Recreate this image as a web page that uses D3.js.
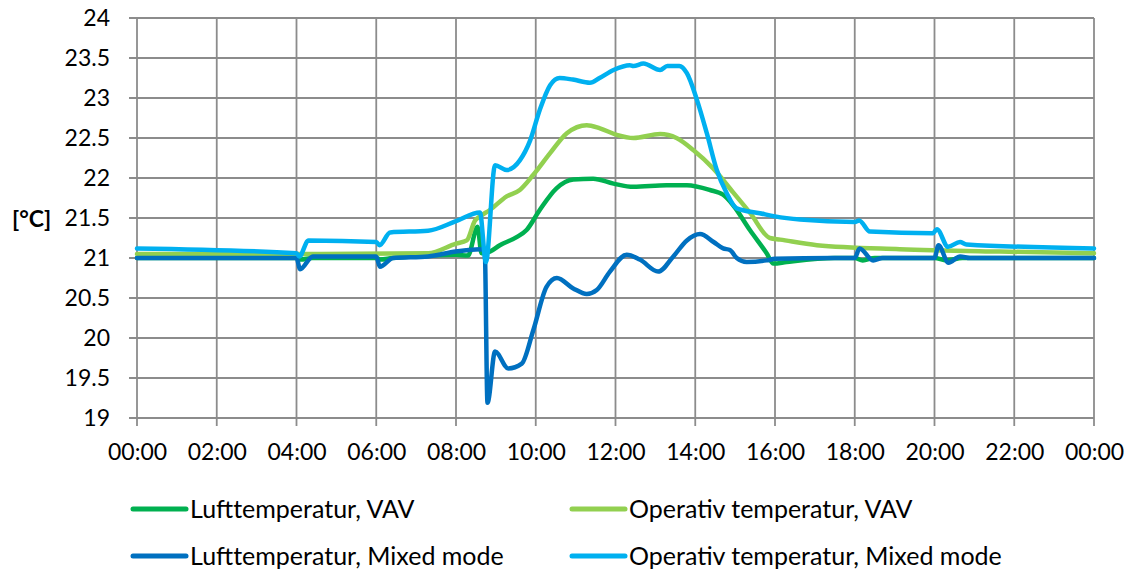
<!DOCTYPE html>
<html>
<head>
<meta charset="utf-8">
<script src="https://cdn.jsdelivr.net/npm/d3@7"></script>
<style>
  html, body { margin: 0; padding: 0; background: #fff; }
  svg { display: block; font-family: Lato, "Open Sans", sans-serif; }
</style>
</head>
<body>
<svg id="chart" width="1132" height="572"></svg>
<script>
// ---- Data (hours of day, °C) ----
const seriesNames = ["Lufttemperatur, VAV", "Operativ temperatur, VAV", "Lufttemperatur, Mixed mode", "Operativ temperatur, Mixed mode"];
const seriesColors = ["#00b050", "#92d050", "#0070c0", "#00b0f0"];

const xTickLabels = ["00:00","02:00","04:00","06:00","08:00","10:00","12:00","14:00","16:00","18:00","20:00","22:00","00:00"];
const yTicks = [19, 19.5, 20, 20.5, 21, 21.5, 22, 22.5, 23, 23.5, 24];

const luftVAV_t = [0, 4.0, 4.1, 4.4, 6.0, 6.1, 6.4, 8.0, 8.3, 8.54, 8.64, 8.85, 9.1, 9.52, 9.77, 10.1, 10.52, 10.94, 11.44, 11.95, 12.45, 13.28, 13.79, 14.37, 14.7, 14.95, 15.37, 15.79, 15.96, 16.29, 17.5, 18.0, 18.2, 18.5, 20.0, 20.3, 20.7, 24];
const luftVAV_v = [21.0, 21.0, 20.98, 21.0, 21.0, 20.98, 21.0, 21.04, 21.03, 21.39, 21.06, 21.08, 21.16, 21.26, 21.35, 21.6, 21.87, 21.98, 21.99, 21.93, 21.89, 21.91, 21.91, 21.85, 21.79, 21.66, 21.35, 21.06, 20.93, 20.95, 21.0, 21.0, 20.97, 21.0, 21.0, 20.97, 21.0, 21.0];

const opVAV_t = [0, 4.0, 7.3, 8.0, 8.27, 8.48, 8.6, 8.85, 9.27, 9.6, 9.94, 10.36, 10.78, 11.28, 11.61, 12.03, 12.45, 13.12, 13.53, 13.95, 14.45, 14.95, 15.38, 15.87, 16.13, 17.05, 19.13, 21.64, 24];
const opVAV_v = [21.05, 21.05, 21.06, 21.18, 21.22, 21.47, 21.52, 21.6, 21.77, 21.85, 22.04, 22.31, 22.56, 22.66, 22.62, 22.54, 22.5, 22.55, 22.5, 22.35, 22.12, 21.82, 21.56, 21.25, 21.23, 21.16, 21.11, 21.08, 21.06];

const luftMM_t = [0, 4.0, 4.09, 4.41, 6.0, 6.09, 6.42, 7.3, 8.0, 8.6, 8.72, 8.79, 8.98, 9.31, 9.65, 9.94, 10.27, 10.53, 10.94, 11.28, 11.53, 11.86, 12.28, 12.61, 13.07, 13.45, 13.79, 14.12, 14.46, 14.7, 14.87, 15.04, 15.29, 15.79, 16.0, 17.45, 18.0, 18.12, 18.46, 18.7, 20.0, 20.1, 20.35, 20.64, 20.89, 24];
const luftMM_v = [21.0, 21.0, 20.86, 21.02, 21.02, 20.89, 21.0, 21.02, 21.08, 21.11, 21.1, 19.19, 19.83, 19.62, 19.68, 20.1, 20.64, 20.75, 20.62, 20.55, 20.6, 20.83, 21.04, 20.98, 20.83, 21.02, 21.22, 21.3, 21.2, 21.12, 21.1, 21.0, 20.95, 20.97, 20.99, 21.0, 21.0, 21.12, 20.97, 21.0, 21.0, 21.16, 20.94, 21.02, 21.0, 21.0];

const opMM_t = [0, 4.0, 4.07, 4.3, 6.0, 6.08, 6.35, 7.3, 8.0, 8.6, 8.75, 8.98, 9.27, 9.6, 9.86, 10.1, 10.36, 10.6, 10.93, 11.36, 11.6, 11.95, 12.36, 12.45, 12.7, 13.12, 13.3, 13.6, 13.79, 14.04, 14.29, 14.54, 14.79, 15.04, 15.62, 16.0, 16.63, 18.0, 18.11, 18.38, 19.96, 20.06, 20.34, 20.64, 20.8, 24];
const opMM_v = [21.12, 21.06, 21.02, 21.22, 21.2, 21.16, 21.32, 21.34, 21.46, 21.57, 20.95, 22.16, 22.1, 22.22, 22.47, 22.85, 23.16, 23.25, 23.23, 23.19, 23.25, 23.35, 23.41, 23.4, 23.43, 23.35, 23.4, 23.4, 23.31, 22.98, 22.56, 22.1, 21.81, 21.62, 21.56, 21.52, 21.48, 21.45, 21.47, 21.33, 21.31, 21.36, 21.14, 21.2, 21.17, 21.12];

const seriesT = [luftVAV_t, opVAV_t, luftMM_t, opMM_t];
const seriesV = [luftVAV_v, opVAV_v, luftMM_v, opMM_v];

// ---- Layout ----
(function () {
const svg = d3.select("#chart");
const mLeft = 137, mRight = 1094, mTop = 18, mBottom = 418;
const x = d3.scaleLinear().domain([0, 24]).range([mLeft, mRight]);
const y = d3.scaleLinear().domain([19, 24]).range([mBottom, mTop]);
const gridColor = "#8c8c8c";
const fontSize = 23;

// Horizontal gridlines
svg.append("g").selectAll("line").data(yTicks).join("line")
  .attr("x1", mLeft - 8).attr("x2", mRight)
  .attr("y1", d => y(d)).attr("y2", d => y(d))
  .attr("stroke", gridColor).attr("stroke-width", 1.8);

// Vertical gridlines (with ticks below)
const xTickVals = d3.range(0, 25, 2);
svg.append("g").selectAll("line").data(xTickVals).join("line")
  .attr("x1", d => x(d)).attr("x2", d => x(d))
  .attr("y1", mTop).attr("y2", mBottom + 8)
  .attr("stroke", gridColor).attr("stroke-width", 1.8);

// Y labels
const yAxis = d3.axisLeft(y).tickValues(yTicks).tickSize(0).tickPadding(0)
  .tickFormat(d => Number.isInteger(d) ? String(d) : d.toFixed(1));
const gy = svg.append("g").attr("transform", `translate(${mLeft - 27},0)`).call(yAxis);
gy.select(".domain").remove();
gy.selectAll("text").attr("font-size", fontSize).attr("fill", "#000")
  .attr("font-family", "Lato, 'Open Sans', sans-serif").attr("dy", "0.34em");

// X labels
const xAxis = d3.axisBottom(x).tickValues(xTickVals).tickSize(0).tickPadding(0)
  .tickFormat((d, i) => xTickLabels[i]);
const gx = svg.append("g").attr("transform", `translate(0,${mBottom + 26})`).call(xAxis);
gx.select(".domain").remove();
gx.selectAll("text").attr("font-size", fontSize).attr("fill", "#000")
  .attr("font-family", "Lato, 'Open Sans', sans-serif").attr("dy", "0.71em");

// Unit label
svg.append("text").attr("x", 12).attr("y", y(21.5) + 1).attr("dy", "0.35em")
  .attr("font-size", fontSize).attr("font-weight", "bold").text("[°C]");

// Lines
const line = d3.line().curve(d3.curveMonotoneX);
seriesT.forEach((ts, i) => {
  const pts = ts.map((t, j) => [x(t), y(seriesV[i][j])]);
  svg.append("path").attr("d", line(pts))
    .attr("fill", "none").attr("stroke", seriesColors[i])
    .attr("stroke-width", 4.5).attr("stroke-linejoin", "round").attr("stroke-linecap", "round");
});

// Legend
const legX = [133, 572], legY = [509, 556];
seriesNames.forEach((name, i) => {
  const lx = legX[i % 2], ly = legY[Math.floor(i / 2)];
  svg.append("line").attr("x1", lx).attr("x2", lx + 53).attr("y1", ly).attr("y2", ly)
    .attr("stroke", seriesColors[i]).attr("stroke-width", 5).attr("stroke-linecap", "round");
  svg.append("text").attr("x", lx + 57).attr("y", ly).attr("dy", "0.35em")
    .attr("font-size", 25).attr("fill", "#000").text(name);
});
})();
</script>
</body>
</html>
